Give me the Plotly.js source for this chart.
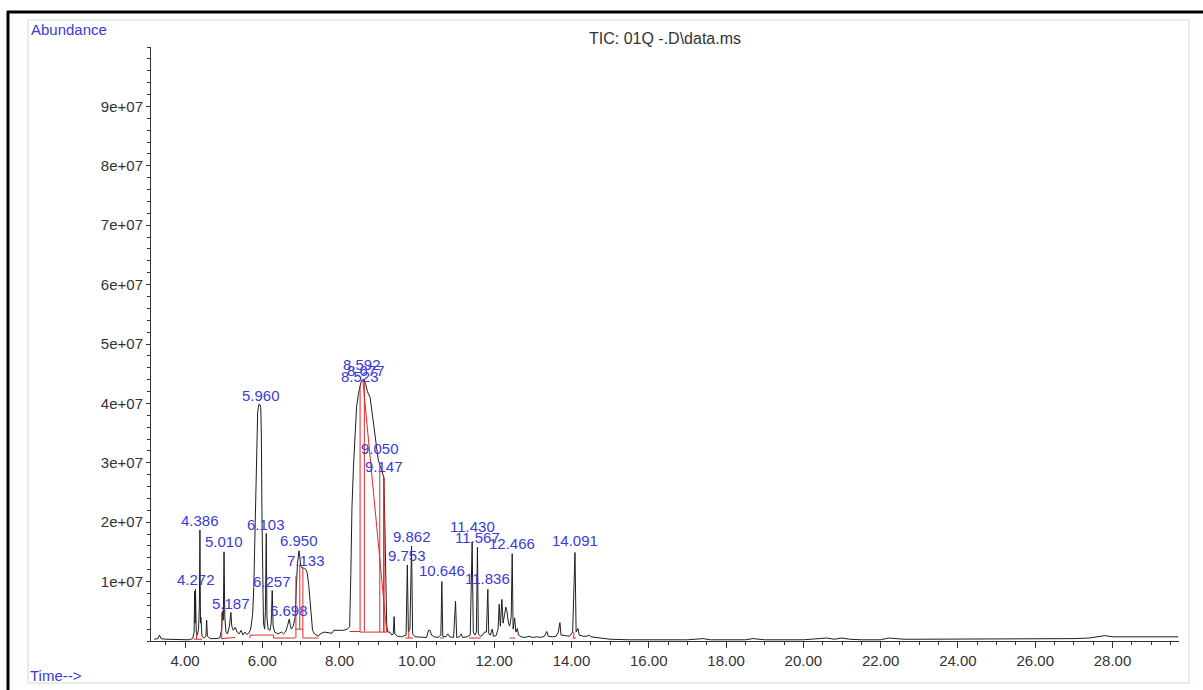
<!DOCTYPE html>
<html>
<head>
<meta charset="utf-8">
<script src="https://cdn.plot.ly/plotly-3.0.1.min.js"></script>
<style>html,body{margin:0;padding:0;background:#fff;}#chart{width:1203px;height:690px;}</style>
</head>
<body>
<div id="chart"></div>
<script>
// Retention times (min) of the total ion chromatogram trace
const ticTime = [
  3.20,3.30,3.34,3.38,3.50,3.70,3.90,4.10,4.20,4.235,4.25,4.262,4.272,4.29,4.32,4.35,4.372,4.386,4.40,4.41,4.44,4.50,4.54,4.56,4.58,4.65,4.80,4.90,
  4.95,4.97,4.99,5.010,5.03,5.06,5.10,5.15,5.187,5.21,5.25,5.30,5.35,5.40,5.45,5.50,5.55,5.60,5.65,5.70,5.75,5.78,5.80,5.82,5.84,5.86,5.88,5.91,
  5.94,5.96,5.975,5.99,6.01,6.03,6.06,6.08,6.103,6.12,6.15,6.20,6.23,6.257,6.28,6.32,6.40,6.50,6.55,6.60,6.65,6.698,6.72,6.75,6.80,6.85,6.88,6.91,
  6.950,6.98,7.00,7.05,7.10,7.133,7.16,7.20,7.24,7.27,7.30,7.35,7.45,7.50,7.55,7.60,7.70,7.80,7.85,7.90,8.00,8.10,8.20,8.26,8.29,8.32,8.36,8.40,
  8.44,8.49,8.523,8.55,8.592,8.62,8.677,8.72,8.79,8.87,8.96,9.00,9.050,9.10,9.147,9.17,9.20,9.22,9.25,9.30,9.35,9.39,9.41,9.43,9.50,9.60,9.72,
  9.753,9.78,9.82,9.862,9.89,9.95,10.10,10.25,10.30,10.34,10.38,10.45,10.55,10.62,10.646,10.67,10.75,10.80,10.85,10.95,11.00,11.03,11.10,11.15,
  11.18,11.30,11.38,11.430,11.46,11.50,11.54,11.567,11.59,11.65,11.70,11.75,11.80,11.836,11.86,11.90,11.95,11.98,12.05,12.10,12.13,12.16,12.20,
  12.23,12.27,12.30,12.33,12.37,12.40,12.44,12.466,12.49,12.53,12.56,12.60,12.63,12.70,12.80,12.90,13.00,13.10,13.20,13.30,13.36,13.40,13.50,
  13.60,13.66,13.70,13.73,13.85,13.95,14.03,14.091,14.12,14.17,14.20,14.30,14.40,14.46,14.50,14.70,15.00,15.50,16.00,16.50,17.00,17.40,17.60,
  18.00,18.50,18.70,19.00,19.50,20.00,20.40,20.60,20.80,21.00,21.20,21.50,22.00,22.20,22.40,22.60,23.00,23.50,24.00,24.50,25.00,25.50,26.00,
  26.50,27.00,27.40,27.60,27.80,28.00,28.50,29.00,29.50,29.70
];
// Abundance
const ticAbundance = [
  3e5,4e5,1.0e6,4e5,3e5,3e5,2e5,2e5,4e5,1.5e6,8.4e6,3.0e6,8.7e6,1.5e6,1.0e6,2.0e6,6.0e6,1.87e7,3.0e6,4.0e6,8e5,5e5,8e5,3.5e6,8e5,4e5,4e5,5e5,
  2.0e6,5.0e6,3.5e6,1.50e7,4.0e6,1.5e6,1.2e6,2.5e6,4.8e6,2.5e6,1.8e6,2.3e6,1.5e6,1.2e6,1.8e6,1.0e6,1.5e6,1.1e6,1.3e6,2.0e6,4.5e6,9.0e6,1.5e7,2.2e7,2.9e7,3.5e7,3.85e7,3.98e7,
  3.98e7,3.93e7,3.5e7,2.2e7,8.0e6,3.0e6,2.0e6,5.0e6,1.81e7,4.0e6,2.0e6,1.8e6,3.0e6,8.5e6,2.5e6,1.5e6,1.2e6,1.5e6,1.2e6,1.5e6,2.5e6,3.7e6,2.8e6,2.0e6,2.5e6,4.0e6,9.0e6,1.3e7,
  1.52e7,1.3e7,1.25e7,1.23e7,1.22e7,1.2e7,1.15e7,9.5e6,6.0e6,3.0e6,1.8e6,1.2e6,8e5,1.2e6,1.4e6,1.5e6,1.4e6,1.3e6,1.8e6,1.8e6,1.7e6,1.8e6,2.0e6,2.4e6,1.1e7,2.25e7,2.95e7,3.5e7,
  3.95e7,4.17e7,4.3e7,4.35e7,4.4e7,4.4e7,4.32e7,4.2e7,4.1e7,3.72e7,3.25e7,3.05e7,2.95e7,2.85e7,2.75e7,2.0e7,8.0e6,2.5e6,1.5e6,1.5e6,1.0e6,1.2e6,4.1e6,1.2e6,8e5,7e5,1.0e6,
  1.28e7,1.5e6,2.0e6,1.6e7,1.2e6,7e5,6e5,6e5,1.8e6,1.8e6,1.0e6,7e5,6e5,1.0e6,1.0e7,8e5,7e5,1.2e6,7e5,6e5,6.7e6,6e5,7e5,1.2e6,
  6e5,7e5,1.0e6,1.67e7,1.5e6,1.0e6,1.5e6,1.58e7,1.2e6,8e5,1.0e6,1.5e6,1.5e6,8.7e6,1.2e6,1.0e6,2.0e6,8e5,9e5,2.0e6,6.2e6,2.5e6,7.0e6,
  3.0e6,4.5e6,5.7e6,5.0e6,3.0e6,2.5e6,4.0e6,1.47e7,2.0e6,3.9e6,1.5e6,2.1e6,1.0e6,7e5,6e5,8e5,6e5,7e5,6e5,8e5,1.6e6,8e5,7e5,
  8e5,1.5e6,3.1e6,1.0e6,9e5,8e5,1.5e6,1.49e7,1.5e6,2.1e6,1.0e6,8e5,8e5,1.0e6,7e5,5e5,3e5,2e5,2e5,2e5,2e5,4e5,2e5,
  2e5,2e5,4e5,2e5,2e5,2e5,4e5,5e5,3e5,5e5,3e5,2e5,2e5,5e5,4e5,3e5,3e5,3e5,3e5,4e5,4e5,4e5,4e5,
  4e5,4e5,5e5,7e5,9e5,7e5,7e5,7e5,7e5,7e5
];
// Integration events (red): segments separated by null
const integTime = [
  4.23,4.45,null, 4.30,4.30,null,
  4.95,4.95,null, 4.95,5.30,null,
  5.68,5.68,6.29,6.29,6.85,null,
  6.87,6.87,null, 6.87,7.05,null, 6.97,6.97,null, 7.05,7.05,null, 7.05,7.45,null,
  8.26,8.53,8.53,null, 8.53,9.22,null, 8.64,8.64,null, 8.60,9.22,null, 9.04,9.04,null, 9.14,9.14,null, 9.15,9.15,null,
  9.70,9.90,null, 9.79,9.79,null, 10.60,10.70,null, 11.35,11.65,null, 12.40,12.55,null, 14.03,14.12,null, 14.06,14.06
];
const integAbundance = [
  3e5,3e5,null, 3e5,1.2e6,null,
  3e5,4.8e6,null, 4e5,6e5,null,
  5e5,1.0e6,1.0e6,5e5,5e5,null,
  5e5,1.1e7,null, 2.0e6,2.0e6,null, 2.0e6,1.3e7,null, 5e5,1.23e7,null, 5e5,5e5,null,
  1.6e6,1.6e6,4.3e7,null, 1.5e6,1.5e6,null, 1.6e6,4.4e7,null, 4.4e7,1.5e6,null, 1.5e6,2.95e7,null, 1.5e6,2.75e7,null, 1.5e6,2.75e7,null,
  5e5,5e5,null, 5e5,2.0e6,null, 5e5,5e5,null, 5e5,5e5,null, 5e5,5e5,null, 5e5,5e5,null, 5e5,1.5e6
];
// Peak labels
const peakLabels = ["4.272","4.386","5.010","5.187","5.960","6.103","6.257","6.698","6.950","7.133",
  "8.523","8.592","8.677","9.050","9.147","9.753","9.862","10.646","11.430","11.567","11.836","12.466","14.091"];
const peakTimes = [4.272,4.386,5.010,5.187,5.960,6.103,6.257,6.698,6.950,7.133,
  8.523,8.592,8.677,9.050,9.147,9.753,9.862,10.646,11.430,11.567,11.836,12.466,14.091];
const peakLabelHeights = [9.3e6,1.924e7,1.56e7,5.3e6,4.03e7,1.857e7,8.9e6,4.1e6,1.577e7,1.25e7,
  4.34e7,4.55e7,4.45e7,3.13e7,2.83e7,1.335e7,1.655e7,1.07e7,1.81e7,1.64e7,9.4e6,1.54e7,1.59e7];
// Axis ticks
const yTickVals = [1e7,2e7,3e7,4e7,5e7,6e7,7e7,8e7,9e7];
const yTickText = ["1e+07","2e+07","3e+07","4e+07","5e+07","6e+07","7e+07","8e+07","9e+07"];

const FONT = '"Liberation Sans", Arial, Helvetica, sans-serif';
const BLUE = '#3b3bd4';
const AX = '#333333';

// plot area in px: left 151, right 1179, top 47, bottom 641
function px(x){ return (x-151)/1028; }
function py(y){ return (641-y)/594; }

const traces = [
  {x: ticTime, y: ticAbundance, type:'scatter', mode:'lines',
   line:{color:'#1e1e1e', width:1}, hoverinfo:'x+y', showlegend:false},
  {x: integTime, y: integAbundance, type:'scatter', mode:'lines',
   line:{color:'#e02828', width:1}, connectgaps:false, hoverinfo:'skip', showlegend:false}
];

const annotations = peakLabels.map((s,i)=>({
  x: peakTimes[i], y: peakLabelHeights[i], xref:'x', yref:'y', text: s,
  showarrow:false, xanchor:'center', yanchor:'bottom', yshift:-4,
  font:{family:FONT, size:15, color:BLUE}
}));
annotations.push({xref:'paper', yref:'paper', x:px(29), y:py(29), xanchor:'left', yanchor:'middle',
  text:'Abundance', showarrow:false, font:{family:FONT, size:15, color:BLUE}});
annotations.push({xref:'paper', yref:'paper', x:px(28), y:py(676), xanchor:'left', yanchor:'middle',
  text:'Time-->', showarrow:false, font:{family:FONT, size:15, color:BLUE}});

const shapes = [
  {type:'rect', xref:'paper', yref:'paper', x0:px(28), x1:px(1189), y0:py(683), y1:py(20),
   line:{color:'#d6f0d6', width:1.5}, fillcolor:'rgba(0,0,0,0)', layer:'below'},
  {type:'line', xref:'paper', yref:'paper', x0:px(8), x1:px(8), y0:py(11), y1:py(692),
   line:{color:'#000', width:3}},
  {type:'line', xref:'paper', yref:'paper', x0:px(7), x1:px(1210), y0:py(12), y1:py(12),
   line:{color:'#000', width:3}}
];

const layout = {
  width:1203, height:690,
  margin:{l:151, r:24, t:47, b:49},
  paper_bgcolor:'#ffffff', plot_bgcolor:'#ffffff',
  font:{family:FONT, size:15, color:AX},
  title:{text:'TIC: 01Q -.D\\data.ms', xref:'container', yref:'container',
    x:665/1203, y:1-38/690, xanchor:'center', yanchor:'middle',
    font:{family:FONT, size:16, color:'#333'}},
  xaxis:{range:[3.12,29.72], showgrid:false, zeroline:false, showline:true, linecolor:AX, linewidth:1,
    ticks:'outside', ticklen:6, tickcolor:AX, tickwidth:1, tick0:0, dtick:2, tickformat:'.2f',
    tickfont:{family:FONT, size:15, color:'#333'},
    minor:{dtick:0.5, tick0:0, ticklen:3, tickcolor:AX, ticks:'outside', showgrid:false}},
  yaxis:{range:[0,1e8], showgrid:false, zeroline:false, showline:true, linecolor:AX, linewidth:1,
    ticks:'outside', ticklen:4, tickcolor:AX, tickmode:'array', tickvals:yTickVals, ticktext:yTickText,
    tickfont:{family:FONT, size:15, color:'#333'},
    minor:{tickmode:'linear', tick0:0, dtick:2e6, ticklen:3, tickcolor:AX, ticks:'outside', showgrid:false}},
  annotations: annotations,
  shapes: shapes,
  showlegend:false
};

Plotly.newPlot('chart', traces, layout, {displayModeBar:false, staticPlot:true});
</script>
</body>
</html>
